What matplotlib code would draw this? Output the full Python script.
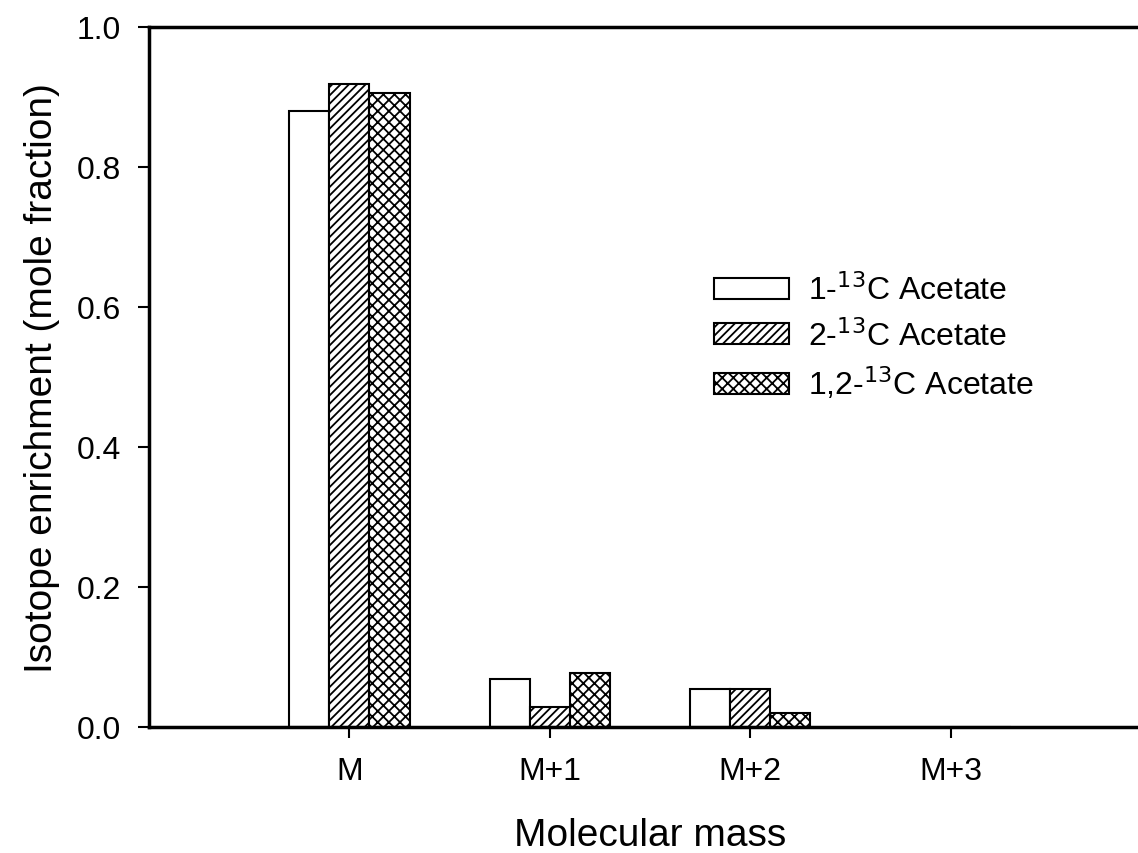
import matplotlib
matplotlib.use("Agg")
import matplotlib.pyplot as plt
import numpy as np

plt.rcParams['font.family'] = ['Liberation Sans', 'DejaVu Sans']
plt.rcParams['hatch.linewidth'] = 1.3

categories = ["M", "M+1", "M+2", "M+3"]
series_names = ["1-$^{13}$C Acetate", "2-$^{13}$C Acetate", "1,2-$^{13}$C Acetate"]
acetate_1 = [0.880, 0.069, 0.054, 0.0]
acetate_2 = [0.919, 0.029, 0.054, 0.0]
acetate_12 = [0.906, 0.077, 0.020, 0.0]
hatches = ["", "////", "xxx"]

W, H = 1138, 854
fig = plt.figure(figsize=(W/100, H/100), dpi=100)
left, right, top, bottom = 149, 1151, 28, 728
ax = fig.add_axes([left/W, 1-bottom/H, (right-left)/W, (bottom-top)/H])

x = np.arange(len(categories))
bw = 0.2
for i, (vals, name, h) in enumerate(zip([acetate_1, acetate_2, acetate_12], series_names, hatches)):
    ax.bar(x + (i-1)*bw, vals, bw, facecolor='white', edgecolor='black',
           linewidth=1.5, hatch=h, label=name)

ax.set_xlim(-1, 4)
ax.set_ylim(0, 1.0)
ax.set_xticks(x)
ax.set_xticklabels(categories)
ax.set_yticks(np.arange(0, 1.01, 0.2))
ax.set_yticklabels([f"{v:.1f}" for v in np.arange(0, 1.01, 0.2)])
ax.tick_params(direction='out', length=8, width=1.5, labelsize=23)
ax.tick_params(axis='x', pad=13)
ax.tick_params(axis='y', pad=12)
for s in ax.spines.values():
    s.set_linewidth(2.5)
ax.spines['right'].set_visible(False)

ax.set_xlabel("Molecular mass", fontsize=28, labelpad=22)
ax.set_ylabel("Isotope enrichment (mole fraction)", fontsize=28, labelpad=12)

leg = ax.legend(loc='upper left', bbox_to_anchor=((701-left)/(right-left), 1-(262-top)/(bottom-top)),
                frameon=False, fontsize=23, handlelength=2.35, handleheight=0.62,
                handletextpad=0.6, labelspacing=0.40, borderaxespad=0)

fig.savefig("out.png", dpi=100)
